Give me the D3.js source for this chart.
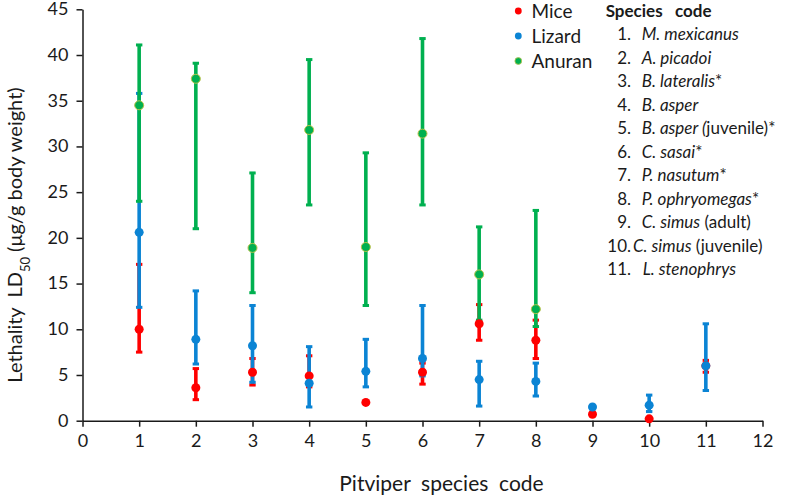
<!DOCTYPE html>
<html>
<head>
<meta charset="utf-8">
<script src="https://cdn.jsdelivr.net/npm/d3@7/dist/d3.min.js"></script>
<style>
  html, body { margin: 0; padding: 0; background: #fff; }
  svg { display: block; font-family: Lato, "Open Sans", sans-serif; }
</style>
</head>
<body>
<svg id="chart" width="788" height="497"></svg>
<script>
// ---- data ----
const codes = [1, 2, 3, 4, 5, 6, 7, 8, 9, 10, 11];
const miceMean  = [10.0, 3.6, 5.3, 4.9, 2.0, 5.3, 10.6, 8.8, 0.7, 0.2, 6.0];
const miceLow   = [7.5, 2.3, 3.9, 3.7, null, 4.0, 8.8, 6.8, null, null, 5.3];
const miceHigh  = [17.1, 5.7, 6.8, 7.1, null, 6.3, 12.7, 11.0, null, null, 6.6];
const lizMean   = [20.6, 8.9, 8.2, 4.1, 5.4, 6.8, 4.5, 4.3, 1.5, 1.7, 6.0];
const lizLow    = [12.4, 6.2, 4.2, 1.5, 3.7, 4.9, 1.6, 2.7, null, 1.0, 3.3];
const lizHigh   = [35.8, 14.2, 12.6, 8.1, 8.9, 12.6, 6.5, 6.3, null, 2.8, 10.6];
const anuMean   = [34.5, 37.4, 18.9, 31.8, 19.0, 31.4, 16.0, 12.2, null, null, null];
const anuLow    = [24.0, 21.0, 14.0, 23.6, 12.6, 23.6, 11.0, 10.3, null, null, null];
const anuHigh   = [41.1, 39.1, 27.1, 39.5, 29.3, 41.8, 21.2, 23.0, null, null, null];
const xTicks = [0, 1, 2, 3, 4, 5, 6, 7, 8, 9, 10, 11, 12];
const yTicks = [0, 5, 10, 15, 20, 25, 30, 35, 40, 45];
const seriesNames = ["Mice", "Lizard", "Anuran"];
const speciesNums = ["1.", "2.", "3.", "4.", "5.", "6.", "7.", "8.", "9.", "10.", "11."];
const speciesItalic = ["M. mexicanus", "A. picadoi", "B. lateralis", "B. asper", "B. asper (", "C. sasai", "P. nasutum", "P. ophryomegas", "C. simus", "C. simus", "L. stenophrys"];
const speciesRest = ["", "", "*", "", "juvenile)*", "*", "*", "*", " (adult)", " (juvenile)", ""];

const colors = { Mice: "#ff0000", Lizard: "#0b84d4", Anuran: "#00b050" };

const svg = d3.select("#chart");
const x = d3.scaleLinear().domain([0, 12]).range([82.5, 762.5]);
const y = d3.scaleLinear().domain([0, 45]).range([420.7, 9.3]);

// axes
const gx = svg.append("g").attr("transform", `translate(0,${y(0)})`)
  .call(d3.axisBottom(x).tickValues(xTicks).tickSize(6).tickSizeOuter(0).tickPadding(8));
const gy = svg.append("g").attr("transform", `translate(${x(0)},0)`)
  .call(d3.axisLeft(y).tickValues(yTicks).tickSize(6).tickSizeOuter(0).tickPadding(8));
[gx, gy].forEach(g => {
  g.select(".domain").attr("stroke", "#1a1a1a").attr("stroke-width", 1.5);
  g.selectAll(".tick line").attr("stroke", "#1a1a1a").attr("stroke-width", 1.5);
  g.selectAll(".tick text").attr("fill", "#1a1a1a").style("font-size", "18px").style("font-family", "Lato, sans-serif");
});
gy.selectAll(".tick text").attr("dy", "0.3em");

// series
const series = [
  { name: "Mice", mean: miceMean, low: miceLow, high: miceHigh },
  { name: "Lizard", mean: lizMean, low: lizLow, high: lizHigh },
  { name: "Anuran", mean: anuMean, low: anuLow, high: anuHigh }
];

const barsG = svg.append("g");
series.forEach(s => {
  const d = codes.map((c, i) => ({ c, lo: s.low[i], hi: s.high[i] })).filter(e => e.lo != null);
  const g = barsG.append("g");
  g.selectAll("line.v").data(d).join("line").attr("class", "v")
    .attr("x1", e => x(e.c)).attr("x2", e => x(e.c))
    .attr("y1", e => y(e.lo)).attr("y2", e => y(e.hi))
    .attr("stroke", colors[s.name]).attr("stroke-width", 3.6);
  ["lo", "hi"].forEach(k => {
    g.selectAll("line.cap" + k).data(d).join("line").attr("class", "cap" + k)
      .attr("x1", e => x(e.c) - 3.2).attr("x2", e => x(e.c) + 3.2)
      .attr("y1", e => y(e[k])).attr("y2", e => y(e[k]))
      .attr("stroke", colors[s.name]).attr("stroke-width", 3);
  });
});

const markG = svg.append("g");
series.forEach(s => {
  const d = codes.map((c, i) => ({ c, v: s.mean[i] })).filter(e => e.v != null);
  markG.append("g").selectAll("circle").data(d).join("circle")
    .attr("cx", e => x(e.c)).attr("cy", e => y(e.v)).attr("r", 4.5)
    .attr("fill", colors[s.name])
    .attr("stroke", s.name === "Anuran" ? "#b9c24a" : colors[s.name])
    .attr("stroke-width", s.name === "Anuran" ? 1 : 0);
});

// legend
const leg = svg.append("g");
seriesNames.forEach((n, i) => {
  const yy = 11 + i * 25;
  leg.append("circle").attr("cx", 518.3).attr("cy", yy).attr("r", 3.4)
    .attr("fill", colors[n])
    .attr("stroke", n === "Anuran" ? "#b9c24a" : "none").attr("stroke-width", 0.8);
  leg.append("text").attr("x", 531.5).attr("y", yy).attr("dy", "0.36em")
    .style("font-size", "19px").attr("fill", "#1a1a1a").text(n);
});

// species code list
const sp = svg.append("g").attr("fill", "#1a1a1a");
sp.append("text").attr("x", 605.7).attr("y", 11).attr("dy", "0.36em")
  .style("font-size", "17px").style("font-weight", "bold")
  .attr("xml:space", "preserve").text("Species   code");
speciesNums.forEach((num, i) => {
  const yy = 34.3 + i * 23.5;
  sp.append("text").attr("x", 631).attr("y", yy).attr("dy", "0.36em")
    .attr("text-anchor", "end").style("font-size", "17px").text(num);
  const t = sp.append("text").attr("x", i === 9 ? 633 : (i === 10 ? 642.7 : 641.7))
    .attr("y", yy).attr("dy", "0.36em").style("font-size", "17px");
  t.append("tspan").style("font-style", "italic").text(speciesItalic[i]);
  if (speciesRest[i]) t.append("tspan").attr("xml:space", "preserve").text(speciesRest[i]);
});

// axis titles
svg.append("text").attr("x", 441.5).attr("y", 491).attr("text-anchor", "middle")
  .style("font-size", "21px").attr("fill", "#1a1a1a")
  .attr("xml:space", "preserve").text("Pitviper  species  code");

const yt = svg.append("text").attr("transform", "translate(22,235) rotate(-90)")
  .attr("text-anchor", "middle").style("font-size", "20px").attr("fill", "#1a1a1a")
  .attr("xml:space", "preserve");
yt.append("tspan").text("Lethality  LD");
yt.append("tspan").attr("baseline-shift", "sub").style("font-size", "13px").text("50");
yt.append("tspan").text(" (μg/g body weight)");
</script>
</body>
</html>
